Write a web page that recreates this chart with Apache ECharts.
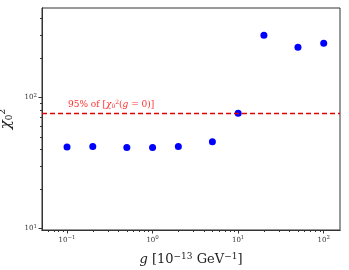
<!DOCTYPE html>
<html><head><meta charset="utf-8">
<script src="https://cdn.jsdelivr.net/npm/echarts@6/dist/echarts.min.js"></script>
<style>html,body{margin:0;padding:0;background:#fff}#c{width:349px;height:270px}</style>
</head><body><div id="c"></div>
<script>
const gValues = [0.1, 0.2, 0.5, 1, 2, 5, 10, 20, 50, 100];
const chi2Values = [41.8, 42.3, 41.4, 41.4, 42.3, 45.9, 75.6, 297, 241, 258];
const thresholdValue = 75.8;
const thresholdLabel = '95% of [{it|χ}{sub|0}{sup|2}({it|g} = 0)]';
const xMajorTicks = [0.1, 1, 10, 100];
const xTickLabels = ['−1', '0', '1', '2'];
const yMajorTicks = [10, 100];
const yTickLabels = ['1', '2'];
const xRange = [0.051, 155];
const yRange = [9.75, 480];

function minorTicks(lo, hi) {
  const out = [];
  for (let e = Math.floor(Math.log10(lo)); e <= Math.ceil(Math.log10(hi)); e++) {
    for (let m = 2; m <= 9; m++) {
      const v = m * Math.pow(10, e);
      if (v >= lo && v <= hi) out.push(+v.toPrecision(6));
    }
  }
  return out;
}

const FONT = 'DejaVu Serif';
const chart = echarts.init(document.getElementById('c'));
const supStyle = {fontSize: 5.5, verticalAlign: 'top', fontFamily: FONT, color: '#333', padding:[0,0,4,0]};
function powLabel(ticks, labels){
  return function(v){
    for (let i = 0; i < ticks.length; i++) {
      if (Math.abs(Math.log10(v) - Math.log10(ticks[i])) < 1e-6) return '10{sup|' + labels[i] + '}';
    }
    return '';
  };
}
const axisBase = (type) => ({
  type: 'log', logBase: 10,
  axisLine: {show: true, onZero: false, lineStyle: {color: '#333'}},
  splitLine: {show: false},
  minorTick: {show: false}
});
chart.setOption({
  animation: false,
  grid: {left: 42, right: 9, top: 8, bottom: 40, show: true, borderColor: '#333', borderWidth: 1, outerBoundsMode: 'none', containLabel: false},
  xAxis: [
    Object.assign(axisBase(), {
      min: xRange[0], max: xRange[1],
      name: '{it|g} [10{sup|−13} GeV{sup|−1}]', nameLocation: 'middle', nameGap: 22,
      nameTextStyle: {fontFamily: FONT, fontSize: 13, color: '#222', rich: {sup: {fontSize: 9, fontFamily: FONT, color:'#222', padding:[0,0,6,0]}, it: {fontSize: 13, fontFamily: FONT, fontStyle: 'italic', color: '#222'}}},
      axisTick: {show: true, inside: false, length: 3.5, lineStyle: {color: '#333'}, customValues: xMajorTicks},
      axisLabel: {fontFamily: FONT, fontSize: 7, color: '#333', margin: 5, customValues: xMajorTicks, formatter: powLabel(xMajorTicks, xTickLabels), rich: {sup: supStyle}}
    }),
    Object.assign(axisBase(), {
      min: xRange[0], max: xRange[1], position: 'bottom',
      axisTick: {show: true, inside: false, length: 2, lineStyle: {color: '#333'}, customValues: minorTicks(xRange[0], xRange[1])},
      axisLabel: {show: false}
    })
  ],
  yAxis: [
    Object.assign(axisBase(), {
      min: yRange[0], max: yRange[1],
      name: '{it|χ}{sub|0}{sup|2}', nameLocation: 'middle', nameGap: 25, nameRotate: 90,
      nameTextStyle: {fontFamily: FONT, fontSize: 15, color: '#222', rich: {it: {fontSize: 15, fontFamily: FONT, fontStyle: 'italic', color: '#222'}, sup: {fontSize: 9, fontFamily: FONT, color:'#222', padding:[0,0,8,0]}, sub: {fontSize: 9, fontFamily: FONT, color:'#222', padding:[6,0,0,0]}}},
      axisTick: {show: true, inside: false, length: 3.5, lineStyle: {color: '#333'}, customValues: yMajorTicks},
      axisLabel: {fontFamily: FONT, fontSize: 7, color: '#333', margin: 5, customValues: yMajorTicks, formatter: powLabel(yMajorTicks, yTickLabels), rich: {sup: supStyle}}
    }),
    Object.assign(axisBase(), {
      min: yRange[0], max: yRange[1], position: 'left',
      axisTick: {show: true, inside: false, length: 2, lineStyle: {color: '#333'}, customValues: minorTicks(yRange[0], yRange[1])},
      axisLabel: {show: false}
    })
  ],
  series: [{
    type: 'scatter',
    data: gValues.map((g, i) => [g, chi2Values[i]]),
    symbolSize: 7,
    itemStyle: {color: '#0000ff', opacity: 1},
    markLine: {
      silent: true, symbol: 'none',
      lineStyle: {color: '#e00000', type: [5, 3], width: 1.3},
      data: [{yAxis: thresholdValue}],
      label: {position: 'insideStartTop', distance: [26, 3], formatter: thresholdLabel, fontFamily: FONT, fontSize: 9, color: '#ff3030',
        rich: {it: {fontSize: 9, fontFamily: FONT, fontStyle: 'italic', color: '#ff3030'}, sup: {fontSize: 6, fontFamily: FONT, color:'#ff3030', padding:[0,0,5,0]}, sub: {fontSize: 6, fontFamily: FONT, color:'#ff3030', padding:[4,0,0,0]}}}
    }
  }]
});
</script></body></html>
